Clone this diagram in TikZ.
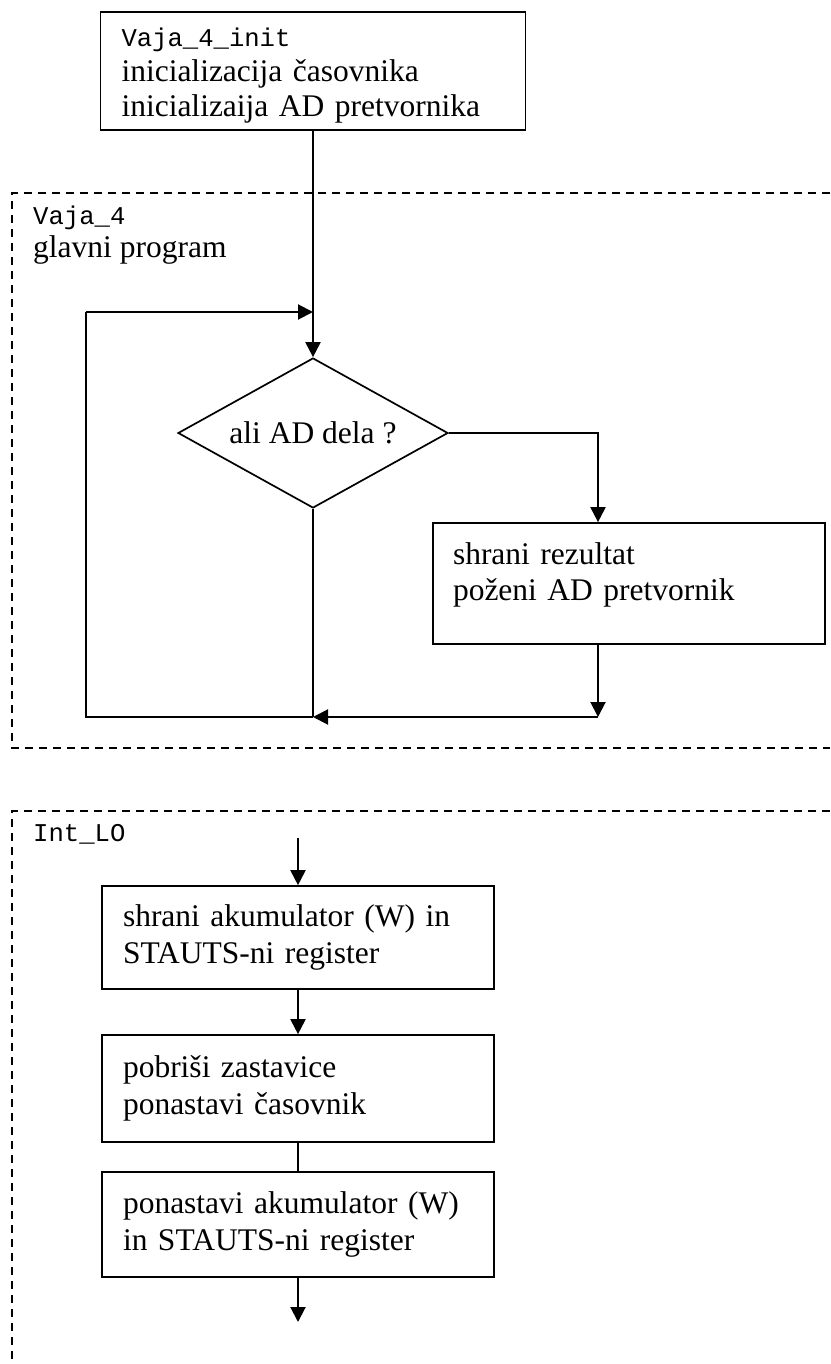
\documentclass[tikz,border=0pt]{standalone}
\usepackage{fontspec}
\setmainfont{Liberation Serif}
\setmonofont{Liberation Mono}
\usetikzlibrary{shapes.geometric}
\usetikzlibrary{arrows.meta}
\usetikzlibrary{calc}

\newcommand{\txtsz}{\fontsize{31.5}{36.5}\selectfont}
\newcommand{\initsz}{\fontsize{31.5}{35}\selectfont}
\newcommand{\codesz}{\ttfamily\fontsize{25.6}{35}\selectfont}

\tikzset{
    box/.style={draw, line width=1.7pt, align=left, inner xsep=21pt, inner ysep=0pt, font=\txtsz},
    decision/.style={draw, diamond, line width=1.7pt, aspect=1.8, inner sep=0pt, font=\txtsz},
    arr/.style={line width=2pt, -{Triangle[width=15pt,length=15pt]}},
    wire/.style={line width=1.8pt},
    region/.style={line width=2pt, dash pattern=on 8pt off 6pt},
}

\begin{document}
\begin{tikzpicture}[x=1pt, y=-1pt]
        \useasboundingbox (0,0) rectangle (830,1364);

        % Init block
        \node[box, text width=383pt, minimum height=118pt, font=\initsz, text depth=66.8pt] (init) at (313, 71)
            {{\codesz Vaja\_4\_init}\\inicializacija časovnika\\inicializaija AD pretvornika};

        % Main program region
        \draw[region] (830,193) -- (12,193) -- (12,748) -- (830,748);
        \node[anchor=base west, inner sep=0pt, font=\codesz] (mainname) at (33, 225) {Vaja\_4};
        \node[anchor=base west, inner sep=0pt, font=\txtsz] (maindesc) at (33, 258) {glavni program};

        \node[decision, minimum width=270pt, minimum height=150pt] (dec) at (313, 433) {ali AD dela ?};
        \node[box, text width=352pt, inner xsep=20pt, minimum height=121pt, text depth=60.5pt] (res) at (629, 583.5)
            {shrani rezultat\\poženi AD pretvornik};

        \coordinate (rcol) at (598, 0);
        \coordinate (join) at (313, 717);
        \coordinate (loopbl) at (86, 717);
        \coordinate (looptl) at (86, 312);
        \coordinate (loopin) at (313, 312);

        % Main flow
        \draw[arr] (init.south) -- (dec.north);
        \draw[arr] (dec.east) -| (rcol |- res.north);
        \draw[arr] (rcol |- res.south) -- (rcol |- join);
        \draw[arr] (rcol |- join) -- (join);
        \draw[wire] (dec.south) -- (join);
        \draw[wire] (join) -- (loopbl) -- (looptl);
        \draw[arr] (looptl) -- (loopin);

        % Interrupt region
        \draw[region] (830,811) -- (12,811) -- (12,1380);
        \node[anchor=base west, inner sep=0pt, font=\codesz] (intname) at (33, 841) {Int\_LO};

        \node[box, text width=350pt, minimum height=103pt] (save) at (298, 937.5)
            {shrani akumulator (W) in\\STAUTS-ni register};
        \node[box, text width=350pt, minimum height=107pt] (clear) at (298, 1088.5)
            {pobriši zastavice\\ponastavi časovnik};
        \node[box, text width=350pt, minimum height=105pt] (restore) at (298, 1224.5)
            {ponastavi akumulator (W)\\in STAUTS-ni register};

        \coordinate (intin) at (298, 838);
        \coordinate (intout) at (298, 1322);

        \draw[arr] (intin) -- (save.north);
        \draw[arr] (save.south) -- (clear.north);
        \draw[wire] (clear.south) -- (restore.north);
        \draw[arr] (restore.south) -- (intout);

    \end{tikzpicture}
\end{document}
